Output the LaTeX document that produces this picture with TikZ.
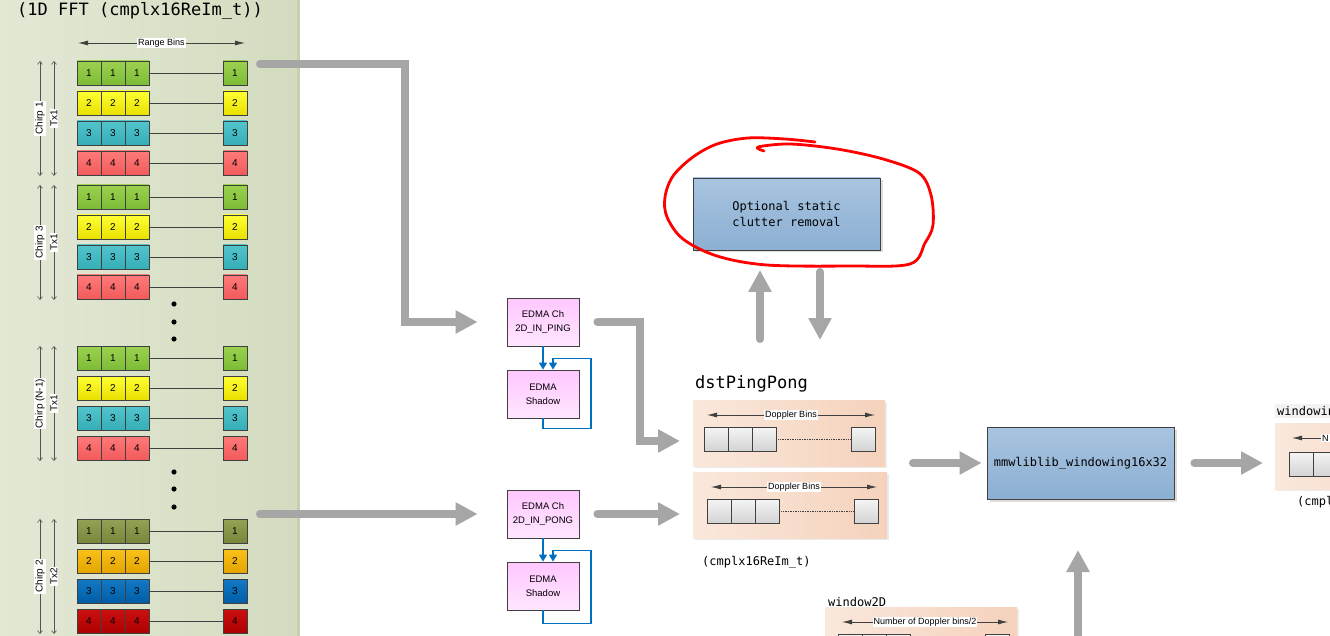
\documentclass[tikz,border=0pt]{standalone}
\usepackage{fontspec}
\setmainfont{Liberation Sans}
\setmonofont{DejaVu Sans Mono}
\usepackage{tikz}
\usetikzlibrary{arrows.meta, shadows, positioning}

\definecolor{edge}{HTML}{404040}
\definecolor{flowgray}{HTML}{A6A6A6}
\definecolor{edmablue}{HTML}{0070C0}
\definecolor{panelL}{HTML}{E3E8D5}
\definecolor{panelR}{HTML}{D3DCBF}
\definecolor{panelE}{HTML}{C6D0B0}
\definecolor{a1t}{HTML}{9BD250}\definecolor{a1b}{HTML}{7CBB36}
\definecolor{a2t}{HTML}{FFFF33}\definecolor{a2b}{HTML}{E8E000}
\definecolor{a3t}{HTML}{52C4CC}\definecolor{a3b}{HTML}{35AEB7}
\definecolor{a4t}{HTML}{FF7A7A}\definecolor{a4b}{HTML}{F25A5A}
\definecolor{b1t}{HTML}{93A356}\definecolor{b1b}{HTML}{76873A}
\definecolor{b2t}{HTML}{F9C21A}\definecolor{b2b}{HTML}{E3A400}
\definecolor{b3t}{HTML}{1479C6}\definecolor{b3b}{HTML}{005DA5}
\definecolor{b4t}{HTML}{CC1010}\definecolor{b4b}{HTML}{AE0000}

\begin{document}
\begin{tikzpicture}[x=1pt, y=-1pt,
    cell/.style={draw=edge, line width=0.8pt, minimum size=24pt, inner sep=0pt, font=\fontsize{10}{10}\selectfont},
    bin/.style={draw=edge, line width=0.8pt, minimum size=24pt, inner sep=0pt, top color=black!4, bottom color=black!17},
    link/.style={draw=edge, line width=0.8pt},
    dim/.style={draw=edge!90, line width=0.6pt, {Straight Barb[length=3pt,width=5pt]}-{Straight Barb[length=3pt,width=5pt]}},
    dimtag/.style={fill=white, inner sep=1pt, rotate=90, font=\fontsize{10}{10}\selectfont},
    span/.style={draw=edge, line width=0.8pt, {Latex[length=10pt,width=5pt]}-{Latex[length=10pt,width=5pt]}},
    tag/.style={fill=white, inner sep=1pt, font=\fontsize{9}{9}\selectfont},
    flow/.style={draw=flowgray, line width=8pt, line cap=round, -{Triangle[length=22pt,width=22pt]}},
    edma/.style={draw=edmablue, line width=1.2pt, -{Triangle[length=7pt,width=8pt]}},
    edmabox/.style={draw=edge, line width=0.8pt, top color=magenta!22, bottom color=magenta!10, minimum width=72pt, minimum height=48pt, align=center, font=\fontsize{9.5}{14}\selectfont},
    procbox/.style={draw=edge, line width=0.8pt, top color={rgb,255:red,168;green,196;blue,224}, bottom color={rgb,255:red,140;green,175;blue,211}, minimum width=187pt, minimum height=72pt, align=center, font=\ttfamily\fontsize{12}{16}\selectfont, drop shadow={shadow xshift=2.5pt, shadow yshift=-2.5pt, fill=black!25}},
    bufpanel/.style={left color={rgb,255:red,250;green,232;blue,220}, right color={rgb,255:red,245;green,210;blue,188}, minimum width=192pt, minimum height=66pt, drop shadow={shadow xshift=2pt, shadow yshift=-2pt, fill=black!15}},
    mono/.style={font=\ttfamily\fontsize{12}{12}\selectfont, inner sep=0pt},
    bigmono/.style={font=\ttfamily\fontsize{17}{17}\selectfont, inner sep=0pt},
    scribble/.style={draw=red, line width=2.8pt, line cap=round, line join=round}]

\useasboundingbox (0,0) rectangle (1330,636);
\clip (0,0) rectangle (1330,636);
\fill[white] (0,0) rectangle (1330,636);

% 1D FFT output
\fill[left color=panelL, right color=panelR] (0,0) rectangle (297,636);
\draw[panelE, line width=3pt] (298.5,0) -- (298.5,636);
\node[bigmono, anchor=base west] (title) at (17,16) {(1D FFT (cmplx16ReIm\_t))};
\draw[span] (78,43) -- node[tag] {Range Bins} (245,43);

\foreach \g/\y/\pal/\chirp/\tx in {1/73/a/{Chirp 1}/Tx1, 2/197/a/{Chirp 3}/Tx1, 3/358/a/{Chirp (N-1)}/Tx1, 4/531/b/{Chirp 2}/Tx2} {
    \foreach \r in {1,...,4} {
        \pgfmathsetmacro\yy{\y+30*(\r-1)}
        \foreach \c in {1,2,3}
            \node[cell, top color=\pal\r t, bottom color=\pal\r b] (g\g r\r c\c) at (65+24*\c,\yy) {\r};
        \node[cell, top color=\pal\r t, bottom color=\pal\r b] (g\g r\r e) at (235,\yy) {\r};
        \draw[link] (g\g r\r c3) -- (g\g r\r e);
    }
    \draw[dim] (40,\y-12) -- node[dimtag] {\chirp} (40,\y+103);
    \draw[dim] (54,\y-12) -- node[dimtag] {\tx} (54,\y+103);
}
\foreach \y in {304,322,339,472,489,507}
    \fill (174,\y) circle (2.6);

% EDMA channels
\node[edmabox] (ping) at (543,322) {EDMA Ch\\2D\_IN\_PING};
\node[edmabox] (pingsh) at (543,394) {EDMA\\Shadow};
\node[edmabox] (pong) at (543,514) {EDMA Ch\\2D\_IN\_PONG};
\node[edmabox] (pongsh) at (543,586) {EDMA\\Shadow};

\draw[edma] (ping) -- (pingsh);
\draw[edma] (pingsh.south) -- ++(0,10) -| ++(48,-70) -| ([xshift=10pt]pingsh.north);
\draw[edma] (pong) -- (pongsh);
\draw[edma] (pongsh.south) -- ++(0,13) -| ++(48,-73) -| ([xshift=10pt]pongsh.north);

% ping pong buffers
\node[bigmono, anchor=base west] (dst) at (695,388) {dstPingPong};
\node[bufpanel] (pingbuf) at (789,433) {};
\node[bufpanel, minimum width=194pt] (pongbuf) at (790,505) {};
\node[mono, anchor=west] (dsttype) at (702,562) {(cmplx16ReIm\_t)};

\node[bufpanel] (winbuf) at (921,640) {};
\node[mono, anchor=west] (win) at (828,602) {window2D};

\node[bufpanel] (outbuf) at (1371,456) {};
\node[mono, anchor=west, fill=black!5, inner sep=2pt] (out) at (1275,411) {windowin};
\node[mono, anchor=west] (outtype) at (1297,502) {(cmpl};

\foreach \b/\x/\y/\e in {pi/716/439/863, po/719/511/866, wi/850/646/997} {
    \foreach \c in {0,1,2}
        \node[bin] (\b\c) at (\x+24*\c,\y) {};
    \node[bin] (\b e) at (\e,\y) {};
    \draw[edge, densely dotted, line width=0.7pt] (\b2) -- (\b e);
}
\node[bin] (ou0) at (1301,464) {};
\node[bin] (ou1) at (1325,464) {};

\draw[span] (707,415) -- node[tag] {Doppler Bins} (875,415);
\draw[span] (711,487) -- node[tag] {Doppler Bins} (877,487);
\draw[span] (842,622) -- node[tag] {Number of Doppler bins/2} (1008,622);
\draw[span] (1292,438) -- (1350,438);
\node[tag, anchor=west] (outtag) at (1321,438) {N};

% processing blocks
\node[procbox] (clutter) at (786.5,214) {Optional static\\clutter removal};
\node[procbox] (mmw) at (1080.5,463) {mmwliblib\_windowing16x32};

\draw[scribble] plot[smooth, tension=0.55] coordinates {(764,151) (758,147) (790,144) (837,149) (883,159) (919,173) (931,195) (933,225) (925,243) (910,264) (850,266) (767,265) (717,256) (683,239) (667,217) (665,197) (673,176) (693,157) (717,144) (748,138) (785,139) (815,142)};

% data flow
\draw[flow] (260,64) -- (405,64) |- ([xshift=-29pt]ping.west);
\draw[flow] (260,514) -- ([xshift=-29pt]pong.west);
\draw[flow] ([xshift=18pt]ping.east) -| (640,441) -- (680,441);
\draw[flow] ([xshift=18pt]pong.east) -- (680,514);
\draw[flow] (760,339) -- (760,270);
\draw[flow] (820,272) -- (820,340);
\draw[flow] (913,463) -- ([xshift=-5pt]mmw.west);
\draw[flow] ([xshift=20pt]mmw.east) -- (1263,463);
\draw[flow] (1078,650) -- (1078,550);
\end{tikzpicture}
\end{document}
